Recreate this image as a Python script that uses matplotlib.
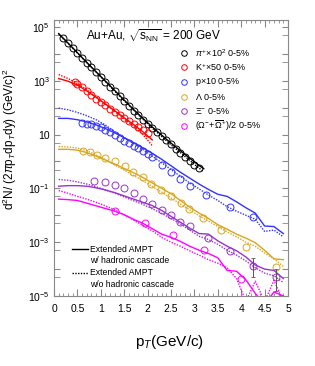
import numpy as np
import matplotlib
matplotlib.use("Agg")
import matplotlib.pyplot as plt
from matplotlib.ticker import FixedLocator, NullFormatter, FixedFormatter

plt.rcParams['font.family'] = ['Liberation Sans', 'DejaVu Sans']
plt.rcParams['mathtext.fontset'] = 'custom'
plt.rcParams['mathtext.rm'] = 'Liberation Sans'
plt.rcParams['mathtext.it'] = 'Liberation Sans:italic'
plt.rcParams['mathtext.bf'] = 'Liberation Sans:bold'

# values, stored as log10(y)
pion_x = [0.2, 0.3, 0.4, 0.5, 0.6, 0.7, 0.8, 0.9, 1.0, 1.1, 1.2, 1.3, 1.4, 1.5, 1.6,
          1.7, 1.8, 1.9, 2.0, 2.1, 2.2, 2.3, 2.4, 2.5, 2.6, 2.7, 2.8, 2.9, 3.0, 3.1]
pion_log = [4.57, 4.39, 4.21, 4.03, 3.85, 3.67, 3.50, 3.32, 3.14, 2.96, 2.78, 2.60, 2.42, 2.25, 2.07,
            1.89, 1.72, 1.55, 1.39, 1.23, 1.08, 0.93, 0.78, 0.63, 0.48, 0.33, 0.18, 0.03, -0.12, -0.26]

kaon_x = [0.45, 0.5, 0.6, 0.7, 0.8, 0.9, 1.0, 1.1, 1.2, 1.3, 1.4, 1.5, 1.6, 1.7, 1.8, 1.9, 2.0]
kaon_log = [2.96, 2.89, 2.75, 2.61, 2.47, 2.33, 2.20, 2.08, 1.96, 1.84, 1.72, 1.62, 1.51, 1.40, 1.29, 1.17, 1.05]

prot_x = [0.6, 0.7, 0.8, 0.9, 1.0, 1.1, 1.2, 1.3, 1.4, 1.5, 1.6, 1.7, 1.8, 1.9, 2.0,
          2.1, 2.3, 2.5, 2.7, 2.9, 3.25, 3.75, 4.25]
prot_log = [1.42, 1.40, 1.38, 1.33, 1.27, 1.18, 1.09, 0.99, 0.88, 0.77, 0.68, 0.59, 0.50, 0.39, 0.28,
            0.15, -0.15, -0.39, -0.64, -0.90, -1.25, -1.71, -2.08]

lam_x = [0.62, 0.77, 0.91, 1.09, 1.3, 1.51, 1.69, 1.9, 2.08, 2.29, 2.5, 2.72, 2.89, 3.18, 3.56, 4.1, 4.75]
lam_log = [0.39, 0.35, 0.23, 0.13, 0.0, -0.18, -0.39, -0.58, -0.82, -1.05, -1.29, -1.54, -1.75, -2.12, -2.53, -3.18, -3.92]

xi_x = [0.85, 1.1, 1.3, 1.5, 1.7, 1.9, 2.1, 2.3, 2.5, 2.7, 2.9, 3.3, 3.75, 4.25, 4.75]
xi_log = [-0.72, -0.78, -0.86, -1.0, -1.18, -1.38, -1.58, -1.81, -2.0, -2.25, -2.41, -2.83, -3.33, -3.9, -4.29]
xi_lo_log = [-0.78, -0.83, -0.90, -1.04, -1.22, -1.42, -1.62, -1.85, -2.05, -2.30, -2.47, -2.90, -3.42, -4.30, -4.80]
xi_hi_log = [-0.67, -0.73, -0.82, -0.96, -1.14, -1.34, -1.54, -1.77, -1.95, -2.20, -2.35, -2.76, -3.24, -3.60, -4.00]

om_x = [1.3, 1.95, 2.55, 3.2, 4.0]
om_log = [-1.83, -2.27, -2.74, -3.3, -4.38]

# model curves (Extended AMPT)
model_x = [0.1, 0.3, 0.5, 0.7, 0.9, 1.1, 1.3, 1.5, 1.7, 1.9, 2.1, 2.3, 2.5,
           2.7, 2.9, 3.1, 3.3, 3.5, 3.7, 3.9, 4.1, 4.3, 4.5, 4.7, 4.9]
pion_mx = [0.1, 0.3, 0.5, 0.7, 0.9, 1.1, 1.3, 1.5, 1.7, 1.9, 2.1, 2.3, 2.5, 2.7, 2.9, 3.1, 3.2]
pion_w = [4.75, 4.40, 4.04, 3.68, 3.33, 2.98, 2.63, 2.28, 1.93, 1.60, 1.28, 0.98, 0.68, 0.40, 0.12, -0.15, -0.27]
pion_wo = [4.72, 4.38, 4.03, 3.67, 3.32, 2.97, 2.61, 2.26, 1.91, 1.57, 1.24, 0.93, 0.62, 0.33, 0.04, -0.25, -0.38]
kaon_mx = [0.1, 0.3, 0.5, 0.7, 0.9, 1.1, 1.3, 1.5, 1.7, 1.9, 2.1]
kaon_w = [3.08, 2.98, 2.84, 2.62, 2.38, 2.13, 1.88, 1.62, 1.37, 1.10, 0.80]
kaon_wo = [3.23, 3.08, 2.90, 2.66, 2.40, 2.13, 1.86, 1.58, 1.30, 1.00, 0.58]
prot_w = [1.60, 1.60, 1.55, 1.47, 1.36, 1.22, 1.06, 0.88, 0.70, 0.50, 0.30, 0.08, -0.16,
          -0.40, -0.62, -0.84, -1.04, -1.22, -1.30, -1.50, -1.72, -1.92, -2.40, -2.42, -2.68]
prot_wo = [1.98, 1.92, 1.82, 1.70, 1.55, 1.35, 1.10, 0.88, 0.66, 0.44, 0.20, -0.05, -0.30,
           -0.55, -0.80, -1.02, -1.25, -1.45, -1.68, -1.85, -2.00, -2.15, -2.60, -2.55, -2.80]
lam_w = [0.45, 0.45, 0.42, 0.33, 0.20, 0.05, -0.10, -0.26, -0.42, -0.60, -0.80, -1.00, -1.20,
         -1.45, -1.70, -1.92, -2.12, -2.35, -2.52, -2.70, -2.85, -3.02, -3.30, -3.62, -3.65]
lam_wo = [0.55, 0.54, 0.50, 0.40, 0.24, 0.06, -0.13, -0.32, -0.52, -0.72, -0.93, -1.14, -1.36,
          -1.58, -1.80, -2.02, -2.22, -2.42, -2.62, -2.80, -3.00, -3.15, -3.40, -3.62, -3.90]
xi_w = [-0.92, -0.90, -0.90, -0.92, -0.98, -1.06, -1.16, -1.28, -1.40, -1.52, -1.64, -1.82, -2.04,
        -2.26, -2.48, -2.68, -2.70, -2.95, -3.15, -3.32, -3.55, -3.85, -4.00, -4.05, -4.35]
xi_wo = [-0.67, -0.70, -0.76, -0.84, -0.94, -1.06, -1.18, -1.32, -1.46, -1.60, -1.76, -1.93, -2.12,
         -2.32, -2.55, -2.78, -2.90, -3.08, -3.30, -3.48, -3.70, -3.95, -4.15, -4.25, -4.50]
om_w = [-1.40, -1.42, -1.45, -1.55, -1.65, -1.75, -1.85, -1.98, -2.15, -2.30, -2.50, -2.70, -2.82,
        -2.97, -3.15, -3.30, -3.42, -3.58, -4.05, -4.08, -4.40, -4.90, -5.30, -4.85, -5.00]
om_wo = [-1.08, -1.18, -1.30, -1.40, -1.52, -1.65, -1.80, -1.98, -2.18, -2.38, -2.58, -2.82, -3.00,
         -3.15, -3.32, -3.48, -3.65, -3.78, -3.95, -4.35, -5.20, -4.45, -5.20, -4.42, -5.20]

labels = [r"$\pi^{+}\!\times\!10^{2}$ 0-5%", r"K$^{+}\!\times\!$50 0-5%", r"p$\times$10 0-5%",
          r"$\Lambda$ 0-5%", r"$\Xi^{-}$ 0-5%", r"($\Omega^{-}\!+\!\overline{\Omega}^{+}$)/2 0-5%"]
colors = ['black', '#ff0000', '#3333ff', '#d9a520', '#9933cc', '#ff00ff']

fig = plt.figure(figsize=(3.15, 3.66), dpi=100)
ax = fig.add_axes([54 / 315, 1 - 296 / 366, 234 / 315, 276 / 366])
ax.set_yscale('log')
ax.set_xlim(0, 5)
ax.set_ylim(1e-5, 1.8e5)

dots = (0, (1, 1))
curves = [(pion_mx, pion_w, pion_wo), (kaon_mx, kaon_w, kaon_wo), (model_x, prot_w, prot_wo),
          (model_x, lam_w, lam_wo), (model_x, xi_w, xi_wo), (model_x, om_w, om_wo)]
points = [(pion_x, pion_log), (kaon_x, kaon_log), (prot_x, prot_log),
          (lam_x, lam_log), (xi_x, xi_log), (om_x, om_log)]

for (mx, w, wo), (px, pl), c in zip(curves, points, colors):
    ax.plot(mx, 10 ** np.array(w), color=c, lw=1.0)
    ax.plot(mx, 10 ** np.array(wo), color=c, lw=1.0, ls=dots)
    ax.plot(px, 10 ** np.array(pl), 'o', ms=5, mfc='none', mec=c, mew=0.7)

# error bars on the last Xi points
xi_y = 10 ** np.array(xi_log)
yerr = [xi_y - 10 ** np.array(xi_lo_log), 10 ** np.array(xi_hi_log) - xi_y]
ax.errorbar(xi_x[-2:], xi_y[-2:], yerr=[yerr[0][-2:], yerr[1][-2:]], fmt='none',
            ecolor='#555555', elinewidth=0.7, capsize=1.2, capthick=0.6)

# axes styling
for s in ax.spines.values():
    s.set_color('#888888')
    s.set_linewidth(0.8)
ax.xaxis.set_major_locator(FixedLocator(np.arange(0, 5.01, 0.5)))
ax.xaxis.set_minor_locator(FixedLocator(np.arange(0, 5.01, 0.1)))
ax.set_xticklabels(['0', '0.5', '1', '1.5', '2', '2.5', '3', '3.5', '4', '4.5', '5'])
decades = [10.0 ** k for k in range(-5, 6)]
ax.yaxis.set_major_locator(FixedLocator(decades))
ytl = []
for k in range(-5, 6):
    if k % 2 == 0:
        ytl.append('')
    elif k == 1:
        ytl.append('10')
    else:
        ytl.append(r'$10^{%d}$' % k)
ax.yaxis.set_major_formatter(FixedFormatter(ytl))
ax.yaxis.set_minor_locator(FixedLocator([5 * 10.0 ** k for k in range(-6, 5)]))
ax.yaxis.set_minor_formatter(NullFormatter())
ax.tick_params(which='both', direction='in', top=True, right=True, color='#888888', labelsize=7.5)
ax.tick_params(axis='x', which='major', length=5, pad=6)
ax.tick_params(axis='x', which='minor', length=2.5)
ax.tick_params(axis='y', which='both', length=4.5, pad=3)

fig.text(10 / 315, 1 - 139 / 366, r"d$^{2}$N/ (2$\pi$p$_{T}$dp$_{T}$dy) (GeV/c)$^{2}$",
         rotation=90, ha='center', va='center', fontsize=8.5)
fig.text(170 / 315, 1 - 342 / 366, r"p$_{T}$(GeV/c)", ha='center', va='center', fontsize=11)
fig.text(86 / 315, 1 - 36 / 366, r"Au+Au, $\sqrt{\mathrm{s}_{\mathrm{NN}}}$ = 200 GeV",
         ha='left', va='center', fontsize=8.5)

# particle legend
rows = [52.7, 67, 82, 96.7, 111, 126]
for lab, c, yr in zip(labels, colors, rows):
    ya = (296 - yr) / 276
    ax.plot([(184 - 54) / 234], [ya], 'o', ms=4, mfc='none', mec=c, mew=0.7,
            transform=ax.transAxes, clip_on=False)
    ax.text((195 - 54) / 234, ya, lab, transform=ax.transAxes, ha='left', va='center', fontsize=6.5)

# model legend
ax.plot([0.077, 0.145], [0.170, 0.170], color='black', lw=1.0, transform=ax.transAxes)
ax.plot([0.077, 0.145], [0.084, 0.084], color='black', lw=1.0, ls=dots, transform=ax.transAxes)
ax.text(0.155, 0.170, "Extended AMPT", transform=ax.transAxes, va='center', fontsize=6.2)
ax.text(0.155, 0.128, "w/ hadronic cascade", transform=ax.transAxes, va='center', fontsize=6.2)
ax.text(0.155, 0.084, "Extended AMPT", transform=ax.transAxes, va='center', fontsize=6.2)
ax.text(0.155, 0.043, "w/o hadronic cascade", transform=ax.transAxes, va='center', fontsize=6.2)

fig.savefig('out.png', dpi=100)
